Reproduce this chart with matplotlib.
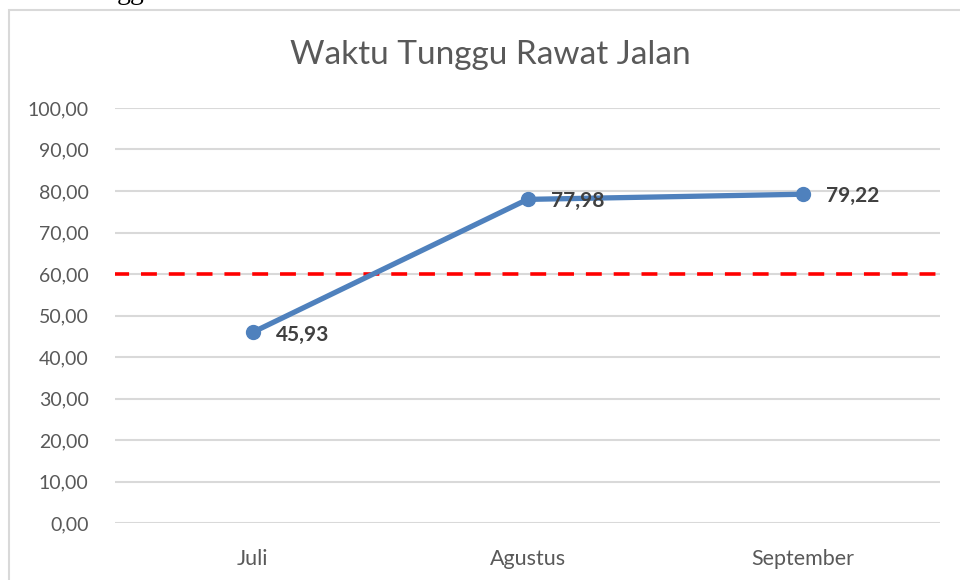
import matplotlib.pyplot as plt
from matplotlib.patches import Rectangle

categories = ["Juli", "Agustus", "September"]
values = [45.93, 77.98, 79.22]
target = 60.0
yticks = [0, 10, 20, 30, 40, 50, 60, 70, 80, 90, 100]
title = "Waktu Tunggu Rawat Jalan"

plt.rcParams['font.family'] = ['Lato', 'DejaVu Sans']

fig = plt.figure(figsize=(9.6, 5.8), dpi=100)
fig.patch.set_facecolor('white')

# chart border (partly cut off at right/bottom)
fig.patches.append(Rectangle((9/960, -0.05), 1.1, (1 - 10/580) + 0.05,
                             transform=fig.transFigure, fill=False,
                             edgecolor='#D9D9D9', linewidth=1.5))

# fragment of text above the chart (cut off at top)
fig.text(117/960, 1 + 1/580, "gg", fontsize=20, family='Liberation Serif',
         color='black', va='baseline', ha='left')

ax = fig.add_axes([115/960, 1 - 523/580, 825/960, (523 - 108)/580])
x = list(range(len(categories)))

ax.set_xlim(-0.5, len(categories) - 0.5)
ax.set_ylim(0, 100)
ax.set_yticks(yticks)
ax.set_yticklabels([f"{v:.2f}".replace('.', ',') for v in yticks])
ax.set_xticks(x)
ax.set_xticklabels(categories)
ax.grid(axis='y', color='#D9D9D9', linewidth=1.5)
ax.set_axisbelow(True)
for s in ax.spines.values():
    s.set_visible(False)
ax.tick_params(axis='both', length=0, labelcolor='#595959')
ax.tick_params(axis='y', pad=19, labelsize=14)
ax.tick_params(axis='x', pad=19, labelsize=15.5)

ax.axhline(target, color='#FF0000', linestyle=(0.5, (4.4, 3.3)), linewidth=2.6,
           zorder=2, dash_capstyle='butt')

ax.plot(x, values, color='#4F81BD', linewidth=3.8, marker='o', markersize=10,
        zorder=3, solid_capstyle='round')

for xi, v in zip(x, values):
    ax.annotate(f"{v:.2f}".replace('.', ','), (xi, v), xytext=(17, -1.5),
                textcoords='offset points', ha='left', va='center',
                fontsize=15, fontweight='bold', color='#404040', zorder=4)

fig.text(490/960, 1 - 55/580, title, ha='center', va='center',
         fontsize=24, color='#595959')

fig.savefig('out.png', dpi=100)
